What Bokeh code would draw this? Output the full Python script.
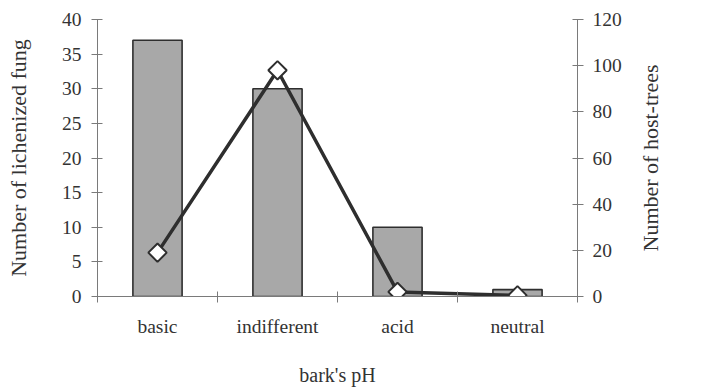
import math
from bokeh.plotting import figure
from bokeh.layouts import row
from bokeh.models import Range1d, LinearAxis, FixedTicker, ColumnDataSource
from bokeh.embed import file_html
from bokeh.resources import INLINE

categories = ["basic", "indifferent", "acid", "neutral"]
lichen_counts = [37, 30, 10, 1]
host_trees = [19, 98, 2, 0.5]
left_ticks = [0, 5, 10, 15, 20, 25, 30, 35, 40]
right_ticks = [0, 20, 40, 60, 80, 100, 120]
right_title = "Number of host-trees"

FONT = "Liberation Serif"
TXT = "#333333"
AX = "#7a7a7a"

xs = [i + 0.5 for i in range(len(categories))]
src = ColumnDataSource(dict(x=xs, cat=categories, fungi=lichen_counts, trees=host_trees))

p = figure(width=634, height=388, output_backend="svg", toolbar_location=None,
           x_range=Range1d(0, len(categories)), y_range=Range1d(0, 40),
           min_border_left=97, min_border_right=57, min_border_top=19, min_border_bottom=92)
p.extra_y_ranges = {"trees": Range1d(0, 120)}
p.background_fill_color = "white"
p.border_fill_color = "white"
p.outline_line_color = None
p.grid.visible = False

p.vbar(x="x", top="fungi", width=0.41, source=src, fill_color="#a8a8a8",
       line_color="#2e2e2e", line_width=1.6)
p.line(x="x", y="trees", source=src, y_range_name="trees", line_color="#2e2e2e", line_width=3.5)
p.scatter(x="x", y="trees", source=src, y_range_name="trees", marker="square", angle=math.pi / 4,
          size=13, fill_color="white", line_color="#2e2e2e", line_width=2)

def style(ax):
    ax.axis_line_color = AX
    ax.major_tick_line_color = AX
    ax.minor_tick_line_color = AX
    ax.major_label_text_font = FONT
    ax.major_label_text_font_size = "19.5px"
    ax.major_label_text_color = TXT
    ax.axis_label_text_font = FONT
    ax.axis_label_text_font_size = "22px"
    ax.axis_label_text_font_style = "normal"
    ax.axis_label_text_color = TXT

xa = p.xaxis[0]
style(xa)
xa.ticker = FixedTicker(ticks=xs, minor_ticks=list(range(len(categories) + 1)))
xa.major_label_overrides = {x: c for x, c in zip(xs, categories)}
xa.major_tick_in = 0
xa.major_tick_out = 0
xa.minor_tick_in = 5
xa.minor_tick_out = 6
xa.major_label_standoff = 13
xa.axis_label = "bark's pH"
xa.axis_label_standoff = 24
xa.axis_label_text_font_size = "20px"

ya = p.yaxis[0]
style(ya)
ya.ticker = FixedTicker(ticks=left_ticks)
ya.major_tick_in = 5
ya.major_tick_out = 6
ya.minor_tick_line_color = None
ya.major_label_standoff = 10
ya.axis_label = "Number of lichenized fung"
ya.axis_label_standoff = 28

ra = LinearAxis(y_range_name="trees", ticker=FixedTicker(ticks=right_ticks))
style(ra)
ra.major_tick_in = 5
ra.major_tick_out = 6
ra.minor_tick_line_color = None
ra.major_label_standoff = 9
p.add_layout(ra, "right")

# narrow companion figure that only carries the right-hand axis title (reads bottom-to-top)
p2 = figure(width=67, height=388, output_backend="svg", toolbar_location=None,
            x_range=Range1d(0, 1), y_range=Range1d(0, 1), x_axis_location=None,
            min_border_left=0, min_border_right=0, min_border_top=19, min_border_bottom=92)
p2.outline_line_color = None
p2.grid.visible = False
p2.background_fill_color = "white"
p2.border_fill_color = "white"
a2 = p2.yaxis[0]
style(a2)
a2.ticker = FixedTicker(ticks=[])
a2.axis_line_color = None
a2.major_tick_in = 0
a2.major_tick_out = 0
a2.minor_tick_line_color = None
a2.axis_label = right_title
a2.axis_label_standoff = 2

layout = row(p, p2, spacing=0)
open("out.html", "w").write(file_html(layout, INLINE))
